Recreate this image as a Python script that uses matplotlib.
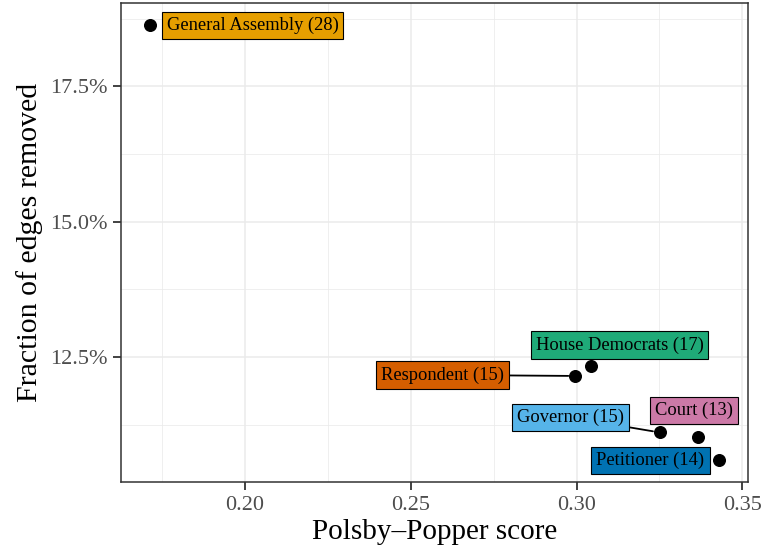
import matplotlib.pyplot as plt
import matplotlib.ticker as mticker
import numpy as np

plt.rcParams['font.family'] = ['Liberation Serif', 'DejaVu Serif']

# data
names = ["General Assembly (28)", "House Democrats (17)", "Respondent (15)",
         "Governor (15)", "Court (13)", "Petitioner (14)"]
pp_score = [0.1712, 0.3042, 0.2996, 0.3251, 0.3365, 0.3431]
frac_removed = [0.1864, 0.12335, 0.12152, 0.11108, 0.11016, 0.10595]
colors = ["#E69F00", "#1FAA78", "#D55E00", "#56B4E9", "#CC79A7", "#0072B2"]

# label placement (pixel offsets from the point, like ggrepel did)
offsets = [(103, -1), (29, 21), (-133, 1), (-89, 15), (-4, 27), (-69, 0)]
segment = [False, False, True, True, False, False]

fig = plt.figure(figsize=(7.69, 5.52), dpi=100)
ax = fig.add_axes([121/769, 1-482/552, (748-121)/769, (482-3)/552])

x = np.array(pp_score)
y = np.array(frac_removed)
xr = x.max()-x.min()
yr = y.max()-y.min()
ax.set_xlim(x.min()-0.05*xr, x.max()+0.05*xr)
ax.set_ylim(y.min()-0.05*yr, y.max()+0.05*yr)

ax.xaxis.set_major_locator(mticker.MultipleLocator(0.05))
ax.xaxis.set_minor_locator(mticker.MultipleLocator(0.025))
ax.yaxis.set_major_locator(mticker.MultipleLocator(0.025))
ax.yaxis.set_minor_locator(mticker.MultipleLocator(0.0125))
ax.xaxis.set_major_formatter(mticker.FormatStrFormatter('%.2f'))
ax.yaxis.set_major_formatter(mticker.FuncFormatter(lambda v, p: "%.1f%%" % (v*100)))

ax.grid(which='major', color='#EBEBEB', lw=1.1)
ax.grid(which='minor', color='#EBEBEB', lw=0.55)
ax.set_axisbelow(True)
for s in ax.spines.values():
    s.set_color('#333333')
    s.set_linewidth(1.1)
ax.tick_params(which='major', length=5.5, width=1.3, color='#333333',
               labelsize=16, labelcolor='#4D4D4D', pad=4.5)
ax.tick_params(which='minor', length=0)

ax.scatter(x, y, s=70, color='black', zorder=3)

for i in range(len(names)):
    ap = None
    if segment[i]:
        ap = dict(arrowstyle='-', color='black', lw=1.3, shrinkA=0, shrinkB=5)
    ax.annotate(names[i], (x[i], y[i]), xytext=offsets[i], textcoords='offset pixels',
                ha='center', va='center', fontsize=13.3, zorder=4,
                bbox=dict(boxstyle='square,pad=0.27', fc=colors[i], ec='black', lw=0.8),
                arrowprops=ap)

ax.set_xlabel("Polsby\u2013Popper score", fontsize=21, labelpad=3)
ax.set_ylabel("Fraction of edges removed", fontsize=21.5, labelpad=5)

fig.savefig("out.png", dpi=100)
